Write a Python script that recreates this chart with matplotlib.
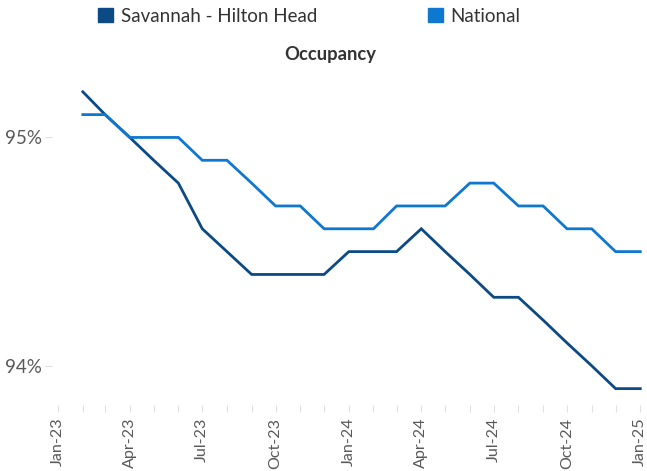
import matplotlib
matplotlib.use("Agg")
import matplotlib.pyplot as plt
import matplotlib.dates as mdates
from matplotlib.patches import Patch
import pandas as pd

plt.rcParams['font.family'] = ['Lato', 'DejaVu Sans']

months = pd.date_range("2023-02-01", "2025-01-01", freq="MS")
savannah = [95.2, 95.1, 95.0, 94.9, 94.8, 94.6, 94.5, 94.4, 94.4, 94.4, 94.4,
            94.5, 94.5, 94.5, 94.6, 94.5, 94.4, 94.3, 94.3, 94.2, 94.1, 94.0, 93.9, 93.9]
national = [95.1, 95.1, 95.0, 95.0, 95.0, 94.9, 94.9, 94.8, 94.7, 94.7, 94.6,
            94.6, 94.6, 94.7, 94.7, 94.7, 94.8, 94.8, 94.7, 94.7, 94.6, 94.6, 94.5, 94.5]
series_names = ["Savannah - Hilton Head", "National"]
colors = ["#0B4A84", "#0E78D0"]
yticks = [94, 95]
ytick_labels = ["94%", "95%"]

fig = plt.figure(figsize=(6.47, 4.71), dpi=100)
ax = fig.add_axes([0.080, 0.140, 0.917, 0.701])

ax.plot(months, savannah, color=colors[0], lw=2.0, solid_joinstyle='miter')
ax.plot(months, national, color=colors[1], lw=2.0, solid_joinstyle='miter')

x0 = pd.Timestamp("2023-01-01")
ax.set_xlim(x0 - pd.Timedelta(days=8), pd.Timestamp("2025-01-01") + pd.Timedelta(days=6))
ax.set_ylim(93.828, 95.274)

ax.xaxis.set_major_locator(mdates.MonthLocator(bymonth=[1, 4, 7, 10]))
ax.xaxis.set_major_formatter(mdates.DateFormatter("%b-%y"))
ax.xaxis.set_minor_locator(mdates.MonthLocator())
ax.set_yticks(yticks)
ax.set_yticklabels(ytick_labels)

for s in ax.spines.values():
    s.set_visible(False)

ax.tick_params(axis='x', which='both', rotation=90, colors='#E0E0E0', labelcolor='#595959',
               labelsize=11.6, length=5, width=0.8, pad=4, direction='out')
ax.tick_params(axis='y', colors='#E0E0E0', labelcolor='#595959', labelsize=13.5, length=5,
               width=0.8, pad=2)

handles = [Patch(facecolor=c, edgecolor=c) for c in colors]
fig.legend(handles, series_names, loc='center', bbox_to_anchor=(0.478, 0.966), ncol=2,
           frameon=False, fontsize=13.5, handlelength=0.8, handleheight=0.8,
           handletextpad=0.4, columnspacing=5.9, labelcolor='#333333')

fig.text(0.51, 0.885, "Occupancy", ha='center', va='center', fontsize=13.2,
         fontweight='bold', color='#333333')

fig.savefig("out.png", dpi=100)
